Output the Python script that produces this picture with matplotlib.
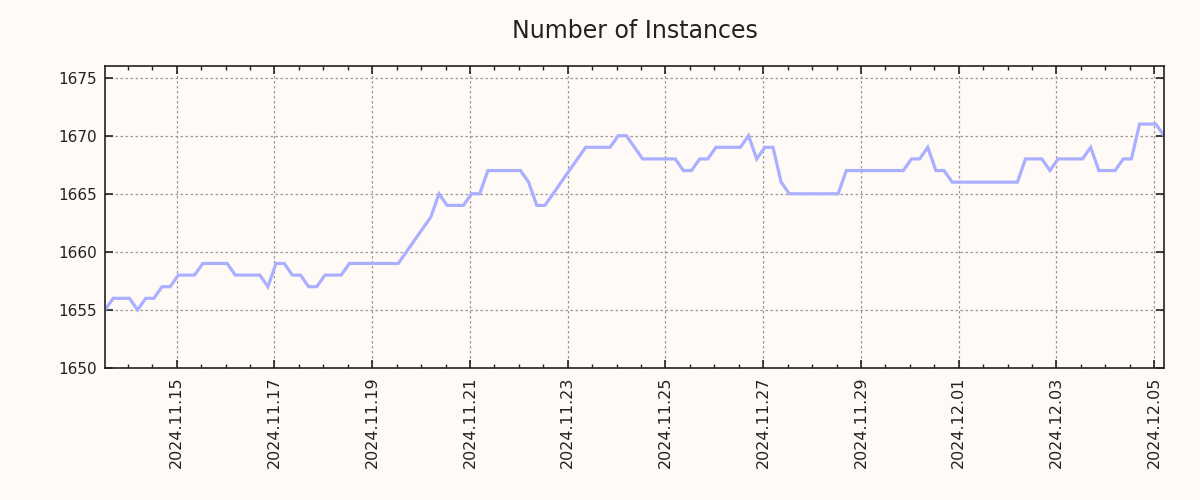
import matplotlib
matplotlib.use("Agg")
import matplotlib.pyplot as plt
import matplotlib.dates as mdates
import numpy as np
import pandas as pd

start_time = "2024-11-13 12:48"
step_hours = 4
instances = [
    1655, 1656, 1656, 1656, 1655, 1656, 1656, 1657, 1657, 1658,
    1658, 1658, 1659, 1659, 1659, 1659, 1658, 1658, 1658, 1658,
    1657, 1659, 1659, 1658, 1658, 1657, 1657, 1658, 1658, 1658,
    1659, 1659, 1659, 1659, 1659, 1659, 1659, 1660, 1661, 1662,
    1663, 1665, 1664, 1664, 1664, 1665, 1665, 1667, 1667, 1667,
    1667, 1667, 1666, 1664, 1664, 1665, 1666, 1667, 1668, 1669,
    1669, 1669, 1669, 1670, 1670, 1669, 1668, 1668, 1668, 1668,
    1668, 1667, 1667, 1668, 1668, 1669, 1669, 1669, 1669, 1670,
    1668, 1669, 1669, 1666, 1665, 1665, 1665, 1665, 1665, 1665,
    1665, 1667, 1667, 1667, 1667, 1667, 1667, 1667, 1667, 1668,
    1668, 1669, 1667, 1667, 1666, 1666, 1666, 1666, 1666, 1666,
    1666, 1666, 1666, 1668, 1668, 1668, 1667, 1668, 1668, 1668,
    1668, 1669, 1667, 1667, 1667, 1668, 1668, 1671, 1671, 1671,
    1670,
]
title = "Number of Instances"
y_limits = (1650, 1676)
y_ticks = [1650, 1655, 1660, 1665, 1670, 1675]

times = pd.date_range(start=start_time, periods=len(instances), freq=f"{step_hours}h")

bg = "#fffaf5"
txt = "#222222"
fig = plt.figure(figsize=(12, 5), dpi=100, facecolor=bg)
ax_rect = [0.0875, 0.264, 0.8825, 0.604]
ax = fig.add_axes(ax_rect)
ax.set_facecolor(bg)

ax.plot(times, instances, color="#aab0ff", linewidth=2.3, solid_joinstyle="miter")

ax.set_xlim(times[0], times[-1])
ax.set_ylim(*y_limits)
ax.set_yticks(y_ticks)

ax.xaxis.set_major_locator(mdates.DayLocator(bymonthday=range(1, 32, 2)))
ax.xaxis.set_major_formatter(mdates.DateFormatter("%Y.%m.%d"))
ax.xaxis.set_minor_locator(mdates.HourLocator(byhour=[0, 12]))

ax.grid(True, which="major", linestyle=(0, (2, 2)), color="#999999", linewidth=0.9)
ax.tick_params(which="both", direction="in", top=True, right=True, colors="#222222",
               labelcolor=txt)
ax.tick_params(axis="y", labelsize=11)
ax.tick_params(axis="x", labelsize=11.5)
ax.tick_params(which="major", length=6, width=1.2, pad=6)
ax.tick_params(which="minor", length=3, width=1.0)
for lbl in ax.get_xticklabels():
    lbl.set_rotation(90)
for sp in ax.spines.values():
    sp.set_linewidth(1.2)
    sp.set_color("#222222")

fig.text(ax_rect[0] + ax_rect[2] / 2, 0.925, title, fontsize=17, color=txt,
         ha="center", va="baseline")

fig.savefig("out.png", dpi=100, facecolor=bg)
